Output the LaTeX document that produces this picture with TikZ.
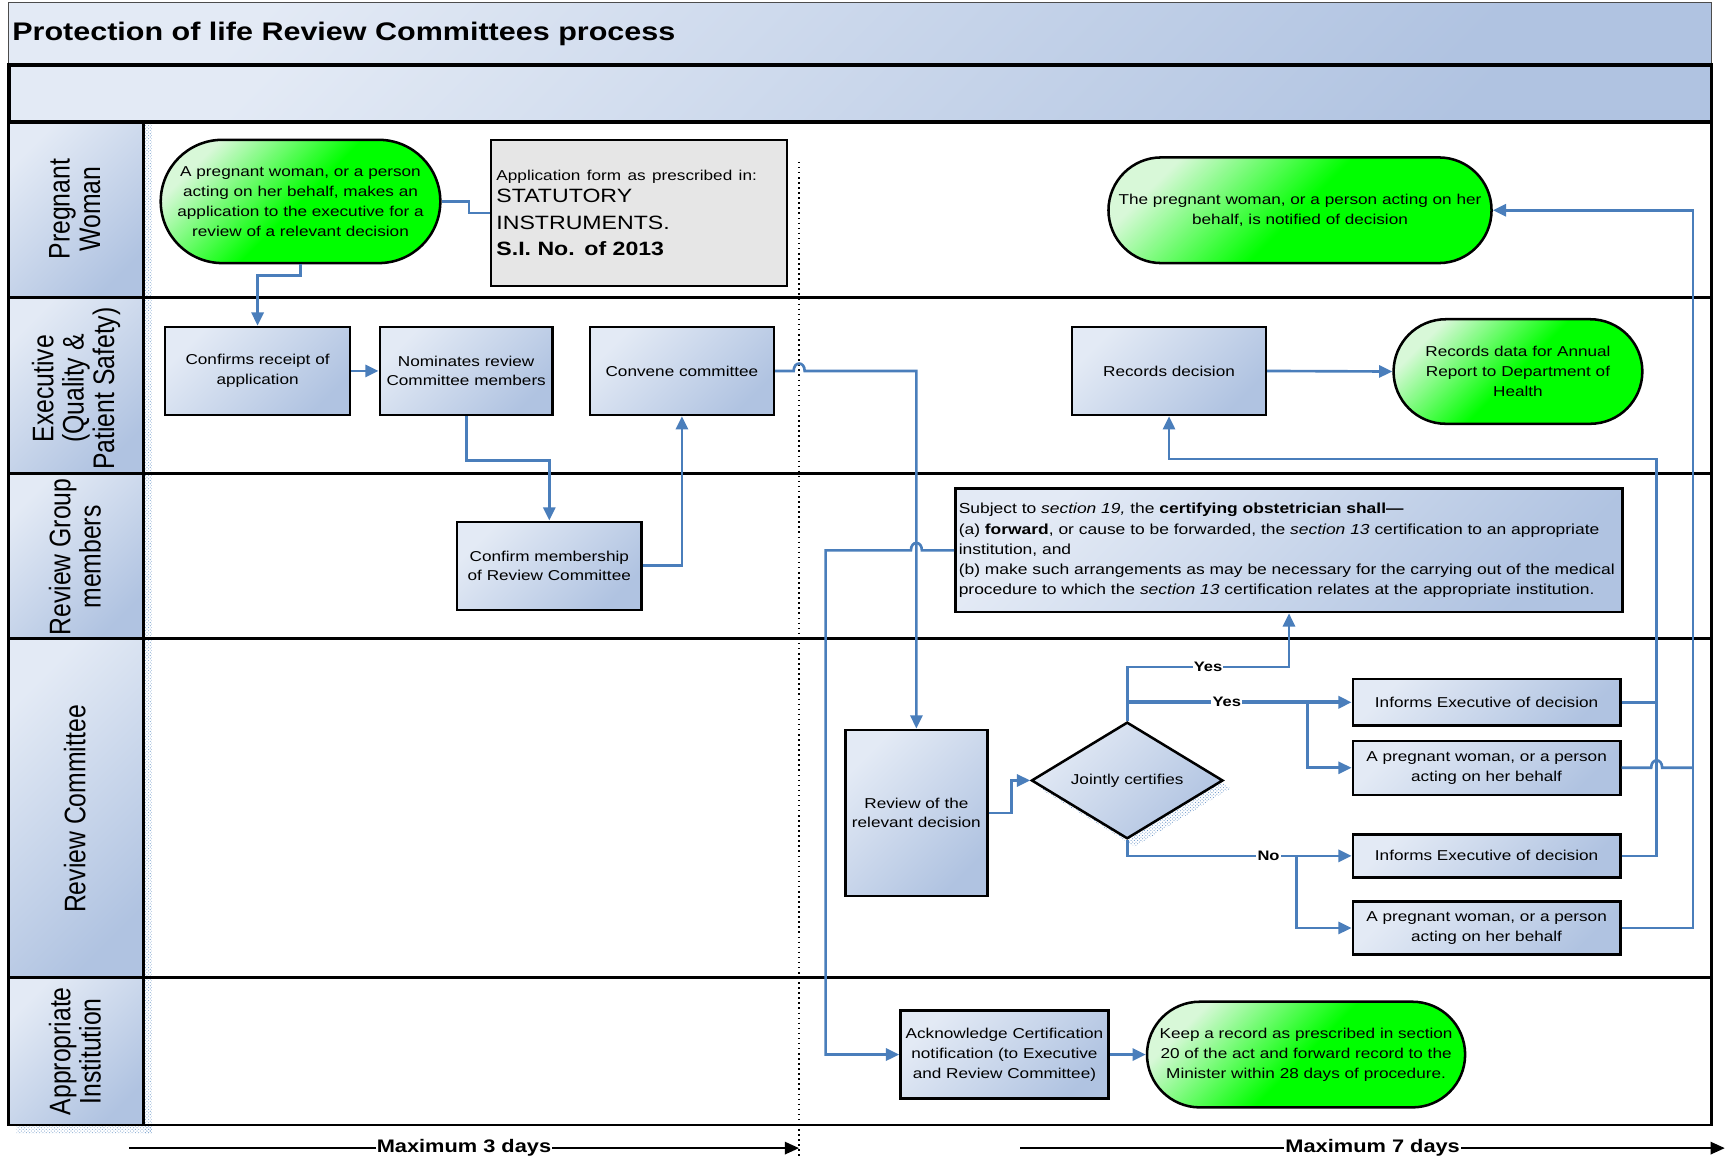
\documentclass[tikz,border=0pt]{standalone}
\usepackage{fontspec}
\setmainfont{Liberation Sans}[FakeStretch=1.2]
\newfontfamily\lanefont{Liberation Sans}
\usetikzlibrary{shapes.misc,shapes.geometric,arrows.meta,patterns,calc}
\definecolor{lnblue}{HTML}{4A7EBB}
\definecolor{bxl}{HTML}{E3EAF5}
\definecolor{bxd}{HTML}{B0C3E1}
\definecolor{gl}{HTML}{D8F8D8}
\definecolor{gn}{HTML}{00FF00}
\definecolor{formgray}{HTML}{E6E6E6}
\newcommand\bodyfs{\fontsize{13}{18}\selectfont}
\newcommand\secfs{\fontsize{13.2}{18.3}\selectfont}
\newcommand\lanefs{\lanefont\fontsize{22.5}{23}\selectfont}
\newcommand\titlefs{\bfseries\fontsize{23.1}{26}\selectfont}
\newcommand\timefs{\bfseries\fontsize{16.5}{20}\selectfont}
\newcommand\lblfs{\bfseries\fontsize{12.5}{14}\selectfont}
\begin{document}
\begin{tikzpicture}[x=1pt,y=-1pt,
  bluefill/.style={top color=bxl, bottom color=bxd, shading angle=45},
  procbox/.style={rectangle, draw=black, line width=2.3pt, bluefill, align=center, font=\bodyfs, inner sep=3pt},
  termnode/.style={rounded rectangle, draw=black, line width=2.3pt, top color=gl, bottom color=gn, middle color=gn, shading angle=45, align=center, font=\bodyfs, inner sep=3pt},
  conn/.style={draw=lnblue, line width=2.4pt},
  arr/.style={conn, -{Triangle[length=12pt,width=11pt]}},
  lanetxt/.style={xscale=1.2, rotate=90, font=\lanefs, align=center, inner sep=0pt},
  lbl/.style={fill=white, font=\lblfs, inner sep=1pt},
  timearr/.style={draw=black, line width=2.4pt, -{Triangle[length=13pt,width=11pt]}},
  timelbl/.style={fill=white, font=\timefs, inner sep=1pt}]
\useasboundingbox (0,0) rectangle (1568,1053);
\fill[white] (0,0) rectangle (1568,1053);

% title bar
\draw[bluefill, draw=black!70, line width=1pt] (8,2) rectangle (1555,58);
\node[anchor=west, font=\titlefs, inner sep=0pt] (title) at (11,31) {Protection of life Review Committees process};
\draw[bluefill, draw=black, line width=3.2pt] (8,59) rectangle (1555,111);

% lane header shadows
\fill[pattern=crosshatch dots, pattern color=lnblue!70] (131,113) rectangle (138,1030);
\fill[pattern=crosshatch dots, pattern color=lnblue!70] (15,1022) rectangle (138,1030);
\fill[pattern=crosshatch dots, pattern color=lnblue!70] (15,272) rectangle (131,278);
\fill[pattern=crosshatch dots, pattern color=lnblue!70] (15,582) rectangle (131,588);

% lane headers
\draw[bluefill, draw=black, line width=2.6pt] (8,111) rectangle (130,270);
\draw[bluefill, draw=black, line width=2.6pt] (8,270) rectangle (130,430);
\draw[bluefill, draw=black, line width=2.6pt] (8,430) rectangle (130,580);
\draw[bluefill, draw=black, line width=2.6pt] (8,580) rectangle (130,888);
\draw[bluefill, draw=black, line width=2.6pt] (8,888) rectangle (130,1022);
\node[lanetxt] (lane1) at (68,190) {Pregnant\\Woman};
\node[lanetxt] (lane2) at (69,353) {Executive\\(Quality \&\\Patient Safety)};
\node[lanetxt] (lane3) at (68,506) {Review Group\\members};
\node[lanetxt] (lane4) at (68,735) {Review Committee};
\node[lanetxt] (lane5) at (68,955) {Appropriate\\Institution};

% lane borders
\draw[line width=2.6pt] (8,111) rectangle (1555,1022);
\foreach \yy in {270,430,580,888} \draw[line width=2.6pt] (130,\yy) -- (1555,\yy);

% dotted divider
\draw[line width=1.4pt, dash pattern=on 1.4pt off 3.2pt] (726,147) -- (726,1053);

% diamond shadow
\fill[pattern=crosshatch dots, pattern color=lnblue!85] (1031,663) -- (1118,716) -- (1031,769) -- (944,716) -- cycle;

% nodes
\node[termnode, minimum width=260pt, minimum height=112pt] (apply) at (273,183) {A pregnant woman, or a person\\acting on her behalf, makes an\\application to the executive for a\\review of a relevant decision};
\node[rectangle, draw=black, line width=2.3pt, fill=formgray, minimum width=269pt, minimum height=133pt, text width=259pt, align=left, inner sep=4pt, font=\fontsize{17.5}{24}\selectfont] (form) at (580.5,193.5) {{\bodyfs Application form as prescribed in:}\\[-4pt]STATUTORY\\INSTRUMENTS.\\\textbf{S.I. No. of 2013}};
\node[termnode, minimum width=354pt, minimum height=96pt] (notified) at (1181,191) {The pregnant woman, or a person acting on her\\behalf, is notified of decision};

\node[procbox, minimum width=168pt, minimum height=80pt] (confirm) at (234,337) {Confirms receipt of\\application};
\node[procbox, minimum width=157pt, minimum height=80pt] (nominate) at (423.5,337) {Nominates review\\Committee members};
\node[procbox, minimum width=167pt, minimum height=80pt] (convene) at (619.5,337) {Convene committee};
\node[procbox, minimum width=176pt, minimum height=80pt] (records) at (1062,337) {Records decision};
\node[termnode, minimum width=232pt, minimum height=95pt] (annual) at (1379,337.5) {Records data for Annual\\Report to Department of\\Health};

\node[procbox, minimum width=168pt, minimum height=80pt] (membership) at (499,514) {Confirm membership\\of Review Committee};
\node[procbox, minimum width=606pt, minimum height=112pt, text width=600pt, inner sep=3pt, align=left, font=\secfs] (section) at (1171,500) {Subject to \textit{section 19,} the \textbf{certifying obstetrician shall—}\\(a) \textbf{forward}, or cause to be forwarded, the \textit{section 13} certification to an appropriate\\institution, and\\(b) make such arrangements as may be necessary for the carrying out of the medical\\procedure to which the \textit{section 13} certification relates at the appropriate institution.};

\node[procbox, minimum width=129pt, minimum height=151pt] (review) at (832.5,738.5) {Review of the\\relevant decision};
\node[diamond, draw=black, line width=2.3pt, bluefill, minimum width=174pt, minimum height=106pt, aspect=1.64, inner sep=0pt, font=\bodyfs] (dia) at (1024,709) {Jointly certifies};
\node[procbox, minimum width=243pt, minimum height=42pt] (infA) at (1350.5,638) {Informs Executive of decision};
\node[procbox, minimum width=243pt, minimum height=49pt] (pwA) at (1350.5,697.5) {A pregnant woman, or a person\\acting on her behalf};
\node[procbox, minimum width=243pt, minimum height=39pt] (infB) at (1350.5,777.5) {Informs Executive of decision};
\node[procbox, minimum width=243pt, minimum height=48pt] (pwB) at (1350.5,843) {A pregnant woman, or a person\\acting on her behalf};

\node[procbox, minimum width=189pt, minimum height=80pt, inner sep=2pt] (ack) at (912.5,958) {Acknowledge Certification\\notification (to Executive\\and Review Committee)};
\node[termnode, minimum width=295pt, minimum height=96pt] (keep) at (1186.5,958) {Keep a record as prescribed in section\\20 of the act and forward record to the\\Minister within 28 days of procedure.};

% connectors
\draw[conn] (apply.east) -- ++(25,0) |- (form.west);
\draw[arr] (apply.south) -- ++(0,10) -| (confirm.north);
\draw[arr] (confirm.east) -- (nominate.west);
\draw[arr] (nominate.south) -- ++(0,40) -| (membership.north);
\draw[arr] (membership.east) -| (convene.south);
\draw[arr] (convene.east) -- (721,337) .. controls (721,328) and (731,328) .. (731,337) -| (review.north);
\draw[arr] (section.west) -- (837.5,500) .. controls (837.5,491) and (827.5,491) .. (827.5,500) -- (750,500) |- (ack.west);
\draw[arr] (ack.east) -- (keep.west);
\draw[arr] (review.east) -- ++(21,0) |- (dia.west);

\coordinate (yes1) at (1024,606);
\draw[arr] (dia.north) -- (yes1) -| node[lbl, pos=0.25] {Yes} (section.south);
\draw[conn, line width=3.6pt, -{Triangle[length=12pt,width=11pt]}] (dia.north |- infA.west) -- node[lbl, pos=0.444] {Yes} (infA.west);
\coordinate (byes) at (1188,638);
\draw[arr] (byes) |- (pwA.west);
\draw[arr] (dia.south) |- node[lbl, pos=0.815] {No} (infB.west);
\coordinate (bno) at (1178,777.5);
\draw[arr] (bno) |- (pwB.west);

\draw[conn] (infA.east) -- (1505,638);
\draw[arr] (infB.east) -- (1505,777.5) -- (1505,417) -| (records.south);
\draw[conn] (pwA.east) -- (1500,697.5) .. controls (1500,688.5) and (1510,688.5) .. (1510,697.5) -- (1538,697.5);
\draw[arr] (pwB.east) -- (1538,843) |- (notified.east);
\draw[arr] (records.east) -- (annual.west);

% time arrows
\coordinate (m3a) at (117,1043);
\coordinate (m3b) at (726,1043);
\coordinate (m7a) at (927,1043);
\coordinate (m7b) at (1567,1043);
\draw[timearr] (m3a) -- node[timelbl] {Maximum 3 days} (m3b);
\draw[timearr] (m7a) -- node[timelbl] {Maximum 7 days} (m7b);
\end{tikzpicture}
\end{document}
